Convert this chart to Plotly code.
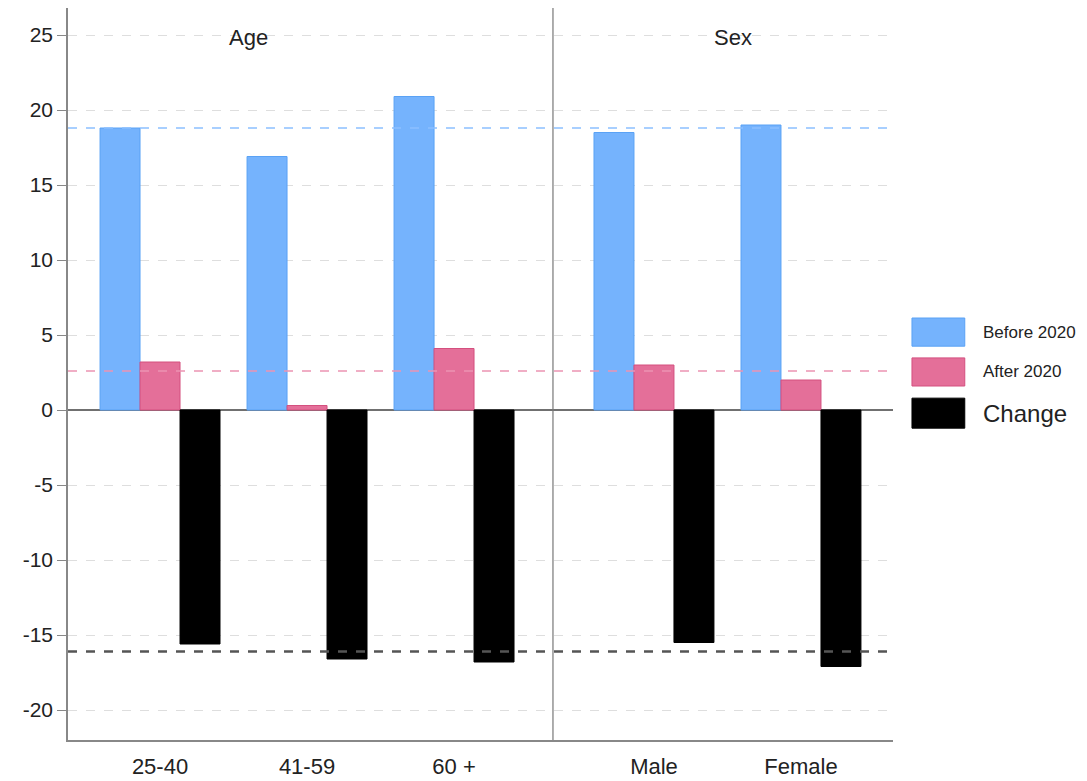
import plotly.graph_objects as go

# ---- data ----
categories = ["25-40", "41-59", "60 +", "Male", "Female"]
before_2020 = [18.8, 16.9, 20.9, 18.5, 19.0]
after_2020 = [3.2, 0.3, 4.1, 3.0, 2.0]
change = [-15.6, -16.6, -16.8, -15.5, -17.1]
mean_before = 18.8
mean_after = 2.6
mean_change = -16.1
panel_titles = ["Age", "Sex"]
y_ticks = [-20, -15, -10, -5, 0, 5, 10, 15, 20, 25]
y_tick_labels = ["-20", "-15", "-10", "-5", "0", "5", "10", "15", "20", "25"]

# ---- layout positions ----
group_pos = [0, 1, 2, 3.36, 4.36]
divider_x = 2.673
panel_title_x = [0.6, 3.9]
bw = 0.272
FONT = "Liberation Sans, Arial, sans-serif"

BLUE = "#75b3fd"
BLUE_EDGE = "#5aa2f5"
PINK = "#e46f99"
PINK_EDGE = "#d4507f"

fig = go.Figure()
fig.add_trace(go.Bar(x=group_pos, y=before_2020, width=bw, offset=-1.5 * bw,
                     marker=dict(color=BLUE, line=dict(color=BLUE_EDGE, width=1)),
                     name="Before 2020"))
fig.add_trace(go.Bar(x=group_pos, y=after_2020, width=bw, offset=-0.5 * bw,
                     marker=dict(color=PINK, line=dict(color=PINK_EDGE, width=1)),
                     name="After 2020"))
fig.add_trace(go.Bar(x=group_pos, y=change, width=bw, offset=0.5 * bw,
                     marker=dict(color="#000000", line=dict(color="#000000", width=1)),
                     name="Change"))

shapes = []
# reference (mean) lines
shapes.append(dict(type="line", xref="paper", yref="y", x0=0, x1=1, y0=mean_before, y1=mean_before,
                   line=dict(color="#8cc0ff", width=1.5, dash="dash"), layer="above"))
shapes.append(dict(type="line", xref="paper", yref="y", x0=0, x1=1, y0=mean_after, y1=mean_after,
                   line=dict(color="#ec94b3", width=1.5, dash="dash"), layer="above"))
shapes.append(dict(type="line", xref="paper", yref="y", x0=0, x1=1, y0=mean_change, y1=mean_change,
                   line=dict(color="#555555", width=2.5, dash="dash"), layer="above"))
# panel divider
shapes.append(dict(type="line", xref="x", yref="paper", x0=divider_x, x1=divider_x, y0=0, y1=1,
                   line=dict(color="#777777", width=1.2), layer="above"))

# manual legend
legend_items = [("Before 2020", BLUE, BLUE_EDGE, 17), ("After 2020", PINK, PINK_EDGE, 17),
                ("Change", "#000000", "#000000", 24)]
leg_y = [(0.5765, 0.538), (0.522, 0.4836), (0.467, 0.426)]
annotations = []
for (name, col, edge, fs), (ya, yb) in zip(legend_items, leg_y):
    shapes.append(dict(type="rect", xref="paper", yref="paper", x0=1.023, x1=1.087, y0=yb, y1=ya,
                       fillcolor=col, line=dict(color=edge, width=1)))
    annotations.append(dict(xref="paper", yref="paper", x=1.107, y=(ya + yb) / 2, text=name,
                            showarrow=False, xanchor="left", yanchor="middle",
                            font=dict(family=FONT, size=fs, color="#222222")))

for t, px in zip(panel_titles, panel_title_x):
    annotations.append(dict(xref="x", yref="paper", x=px, y=0.96, text=t, showarrow=False,
                            xanchor="center", yanchor="middle",
                            font=dict(family=FONT, size=22, color="#222222")))

# page body has an 8px margin, so the figure is shrunk by 8px and offset accordingly
fig.update_layout(
    width=1079, height=773,
    margin=dict(l=60, r=194, t=0, b=41),
    plot_bgcolor="white", paper_bgcolor="white",
    showlegend=False, barmode="overlay",
    shapes=shapes, annotations=annotations,
    font=dict(family=FONT, color="#222222"),
)
fig.update_xaxes(range=[-0.626, 4.986], tickvals=group_pos, ticktext=categories,
                 showgrid=False, zeroline=False, showline=True, linecolor="#888888", linewidth=1.5,
                 ticks="", ticklabelstandoff=6, tickfont=dict(family=FONT, size=22, color="#222222"))
fig.update_yaxes(range=[-22, 26.8], tickvals=y_ticks, ticktext=y_tick_labels,
                 showgrid=True, gridcolor="#dedede",
                 griddash="dash", gridwidth=1, zeroline=True, zerolinecolor="#707070", zerolinewidth=1.5,
                 showline=True, linecolor="#888888", linewidth=1.5, ticks="outside", ticklen=9,
                 tickcolor="#888888", tickfont=dict(family=FONT, size=21, color="#222222"))

fig.write_html("out.html")
